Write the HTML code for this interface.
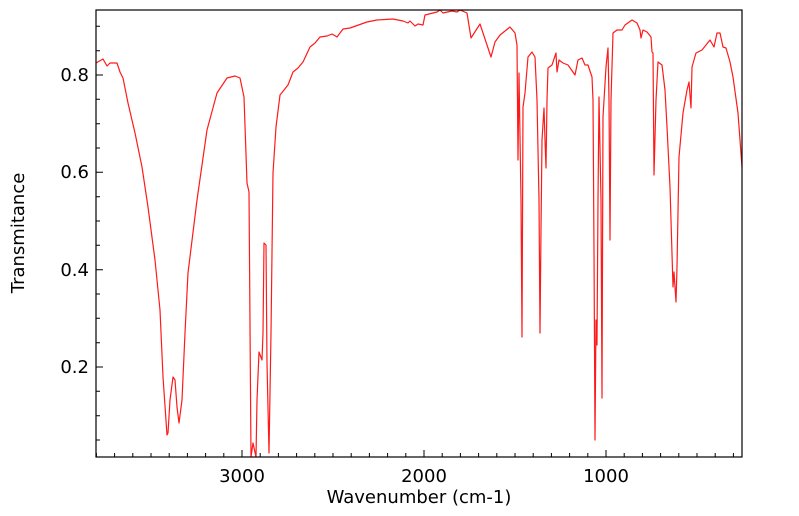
<!DOCTYPE html>
<html><head><meta charset="utf-8"><style>
body{margin:0;background:#fff;}
svg{display:block;font-family:"DejaVu Sans","Liberation Sans",sans-serif;}
</style></head><body>
<svg width="799" height="516" viewBox="0 0 799 516" xmlns="http://www.w3.org/2000/svg">
<rect width="799" height="516" fill="#fff"/>
<path stroke="#000" stroke-width="1" fill="none" d="
M96.4,457v-4 M114.6,457v-4 M132.8,457v-4 M151,457v-4 M169.2,457v-4 M187.4,457v-4 M205.6,457v-4 M223.8,457v-4 M242,457v-7 M260.2,457v-4 M278.4,457v-4 M296.6,457v-4 M314.8,457v-4 M333,457v-4 M351.2,457v-4 M369.4,457v-4 M387.6,457v-4 M405.8,457v-4 M424,457v-7 M442.2,457v-4 M460.4,457v-4 M478.6,457v-4 M496.8,457v-4 M515,457v-4 M533.2,457v-4 M551.4,457v-4 M569.6,457v-4 M587.8,457v-4 M606,457v-7 M624.2,457v-4 M642.4,457v-4 M660.6,457v-4 M678.8,457v-4 M697,457v-4 M715.2,457v-4 M733.4,457v-4
M96,440h4 M96,415.7h4 M96,391.3h4 M96,367h7 M96,342.7h4 M96,318.3h4 M96,294h4 M96,269.7h7 M96,245.3h4 M96,221h4 M96,196.7h4 M96,172.3h7 M96,148h4 M96,123.7h4 M96,99.3h4 M96,75h7 M96,50.7h4 M96,26.3h4"/>
<polyline fill="none" stroke="#ff1a1a" stroke-width="1.2" stroke-linejoin="round" points="
96,63 103,59 107,66 110,63 117,63 120,72 123,78 128,103 135,133 142,167 148,207 155,260 160,310 163,377 167,435 168,433 170,400 173,377 175,380 177,407 179,423 182,400 185,333 188,273 197,200 207,130 217,93 227,78 235,76 240,78 244,97 247,183 249,192 251,457 253,443 256,457 257,400 259,352 262,360 263,333 264,243 266,245 267,363 269,453 271,333 273,173 276,127 280,95 288,85 293,72 298,68 303,62 310,47 315,43 320,37 327,36 332,34 337,37 343,29 350,28 367,22 377,20 393,19 403,21 408,23 410,21 415,26 418,24 423,25 425,15 437,12 440,10 443,13 452,11 457,12 460,10 467,13 471,38 480,24 483,33 491,57 495,42 500,35 510,27 515,33 517,45 518,160 519,73 521,200 522,337 523,107 525,93 528,57 532,52 535,57 537,100 539,200 540,333 541,230 542,140 544,108 545,140 546,168 547,100 548,68 552,65 556,53 557,72 559,60 563,63 568,65 575,75 578,60 582,58 585,65 588,65 592,77 593,100 594,250 595,440 596,320 597,345 598,200 599,97 601,200 602,398 603,117 606,67 608,48 609,100 610,240 611,100 613,33 617,30 622,30 625,25 632,20 637,23 640,30 641,38 643,30 647,32 651,37 652,52 653,53 654,175 656,100 658,62 662,65 665,90 667,127 670,187 673,287 674,272 676,302 677,267 679,157 683,113 687,90 689,82 691,108 692,67 696,53 702,50 710,40 714,47 717,33 720,33 723,47 726,48 730,62 733,77 738,113 742,167"/>
<rect x="96" y="10" width="646" height="447" fill="none" stroke="#000" stroke-width="1.2"/>
<g font-size="18" fill="#000">
<text x="89" y="373" text-anchor="end">0.2</text>
<text x="89" y="276" text-anchor="end">0.4</text>
<text x="89" y="178" text-anchor="end">0.6</text>
<text x="89" y="81" text-anchor="end">0.8</text>
<text x="242" y="482" text-anchor="middle">3000</text>
<text x="424" y="482" text-anchor="middle">2000</text>
<text x="606" y="482" text-anchor="middle">1000</text>
<text x="419" y="503" text-anchor="middle">Wavenumber (cm-1)</text>
<text transform="translate(24,233) rotate(-90)" text-anchor="middle">Transmitance</text>
</g>
</svg>
</body></html>
